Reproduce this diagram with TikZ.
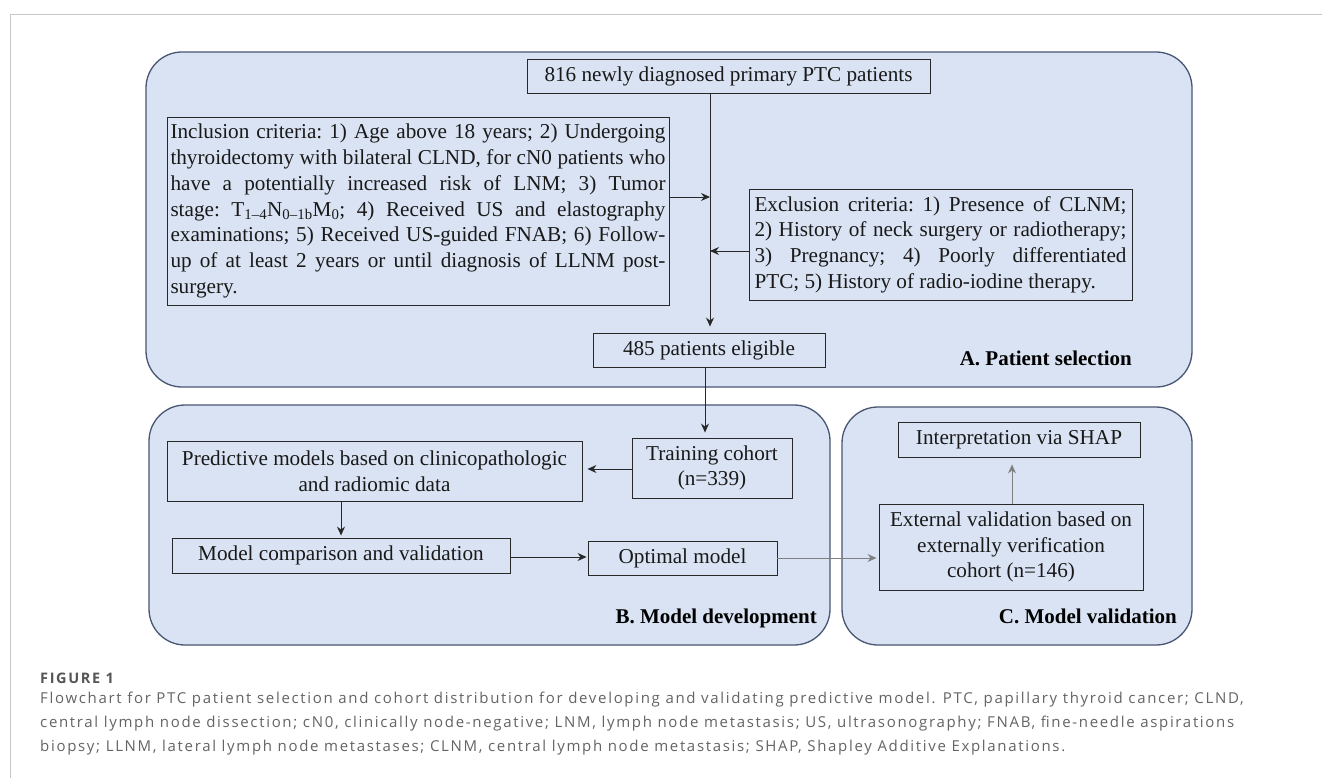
\documentclass[tikz,border=0pt]{standalone}
\usepackage{fontspec}
\setmainfont{Liberation Serif}
\newfontfamily\capfont[LetterSpace=11.2]{Open Sans}
\usetikzlibrary{arrows.meta}
\definecolor{pfill}{RGB}{218,227,243}
\definecolor{pline}{RGB}{72,86,115}
\definecolor{bline}{RGB}{40,40,40}
\definecolor{garrow}{RGB}{128,128,128}
\definecolor{captxt}{RGB}{100,100,100}
\definecolor{framegray}{RGB}{200,200,200}
\newcommand{\jlA}[1]{\makebox[495pt][s]{#1}}
\newcommand{\llA}[1]{\makebox[495pt][l]{#1}}
\newcommand{\jlE}[1]{\makebox[372pt][s]{#1}}
\newcommand{\llE}[1]{\makebox[372pt][l]{#1}}
\begin{document}
\begin{tikzpicture}[x=1pt,y=-1pt,
  panel/.style={draw=pline, line width=1.3pt, fill=pfill, rounded corners=36pt},
  box/.style={draw=bline, line width=0.9pt, inner sep=0pt, text=black!90,
    font=\fontsize{21.2}{25.7}\selectfont\frenchspacing, align=center},
  arr/.style={draw=bline, line width=0.9pt, -{Stealth[length=9pt,width=8pt,inset=3pt]}},
  garr/.style={arr, draw=garrow},
  plabel/.style={font=\fontsize{21}{25}\selectfont\bfseries, anchor=base east, inner sep=0pt},
  capline/.style={font=\capfont\fontsize{15}{24}\selectfont, text=captxt, anchor=base west, inner sep=0pt},
]
\useasboundingbox (0,0) rectangle (1322,778);
\fill[white] (0,0) rectangle (1322,778);
% outer frame
\draw[framegray, line width=1pt] (10,778) -- (10,15) -- (1322,15);

% panels
\draw[panel] (146,52) rectangle (1192,387);
\draw[panel] (149,405) rectangle (830,645);
\draw[panel] (842,407) rectangle (1192,645);

% panel A
\node[box, minimum width=403pt, minimum height=34pt] (n816) at (728.5,76) {816 newly diagnosed primary PTC patients};
\node[box, minimum width=502pt, minimum height=188pt, align=left] (incl) at (418,211)
 {\jlA{Inclusion criteria: 1) Age above 18 years; 2) Undergoing}\\
 \jlA{thyroidectomy with bilateral CLND, for cN0 patients who}\\
 \jlA{have a potentially increased risk of LNM; 3) Tumor}\\
 \jlA{stage: T\textsubscript{1–4}N\textsubscript{0–1b}M\textsubscript{0}; 4) Received US and elastography}\\
 \jlA{examinations; 5) Received US-guided FNAB; 6) Follow-}\\
 \jlA{up of at least 2 years or until diagnosis of LLNM post-}\\
 \llA{surgery.}};
\node[box, minimum width=383pt, minimum height=111pt, align=left] (excl) at (940.5,244.5)
 {\jlE{Exclusion criteria: 1) Presence of CLNM;}\\
 \jlE{2) History of neck surgery or radiotherapy;}\\
 \jlE{3) Pregnancy; 4) Poorly differentiated}\\
 \llE{PTC; 5) History of radio-iodine therapy.}};
\node[box, minimum width=232pt, minimum height=34pt] (n485) at (709,350) {485 patients eligible};
\node[plabel] (la) at (1132,365) {A. Patient selection};

\coordinate (j1) at (710,197);
\coordinate (j2) at (710,251);
\draw[arr, shorten >=6pt] (n816.south -| j1) -- (n485.north -| j1);
\draw[arr] (incl.east |- j1) -- (j1);
\draw[arr] (excl.west |- j2) -- (j2);

% panel B
\node[box, minimum width=160pt, minimum height=60pt] (train) at (712,468) {Training cohort\\(n=339)};
\node[box, minimum width=415pt, minimum height=60pt] (pred) at (374.5,471) {Predictive models based on clinicopathologic\\and radiomic data};
\node[box, minimum width=338pt, minimum height=35pt] (comp) at (341,555.5) {Model comparison and validation};
\node[box, minimum width=189pt, minimum height=34pt] (opt) at (682.5,558) {Optimal model};
\node[plabel] (lb) at (817,623) {B. Model development};

\coordinate (j3) at (705,0);
\coordinate (j4) at (0,469);
\coordinate (j5) at (341,0);
\coordinate (j6) at (0,557);
\draw[arr, shorten >=5pt] (n485.south -| j3) -- (train.north -| j3);
\draw[arr, shorten >=5pt] (train.west |- j4) -- (pred.east |- j4);
\draw[arr, shorten >=2pt] (pred.south -| j5) -- (comp.north -| j5);
\draw[arr, shorten >=1pt] (comp.east |- j6) -- (opt.west |- j6);

% panel C
\node[box, minimum width=242pt, minimum height=35pt] (interp) at (1019,439.5) {Interpretation via SHAP};
\node[box, minimum width=264pt, minimum height=86pt] (ext) at (1011,547) {External validation based on\\externally verification\\cohort (n=146)};
\node[plabel] (lc) at (1177,623) {C. Model validation};

\coordinate (j7) at (0,558);
\coordinate (j8) at (1012,0);
\draw[garr, shorten >=2pt] (opt.east |- j7) -- (ext.west |- j7);
\draw[garr, shorten >=7pt] (ext.north -| j8) -- (interp.south -| j8);

% caption
\node[capline, font=\capfont\bfseries\fontsize{14.5}{20}\selectfont, text=captxt!85!black] (fig) at (40,683) {FIGURE 1};
\node[capline] (c1) at (40,703) {Flowchart for PTC patient selection and cohort distribution for developing and validating predictive model. PTC, papillary thyroid cancer; CLND,};
\node[capline] (c2) at (40,727) {central lymph node dissection; cN0, clinically node-negative; LNM, lymph node metastasis; US, ultrasonography; FNAB, fine-needle aspirations};
\node[capline] (c3) at (40,751) {biopsy; LLNM, lateral lymph node metastases; CLNM, central lymph node metastasis; SHAP, Shapley Additive Explanations.};
\end{tikzpicture}
\end{document}
